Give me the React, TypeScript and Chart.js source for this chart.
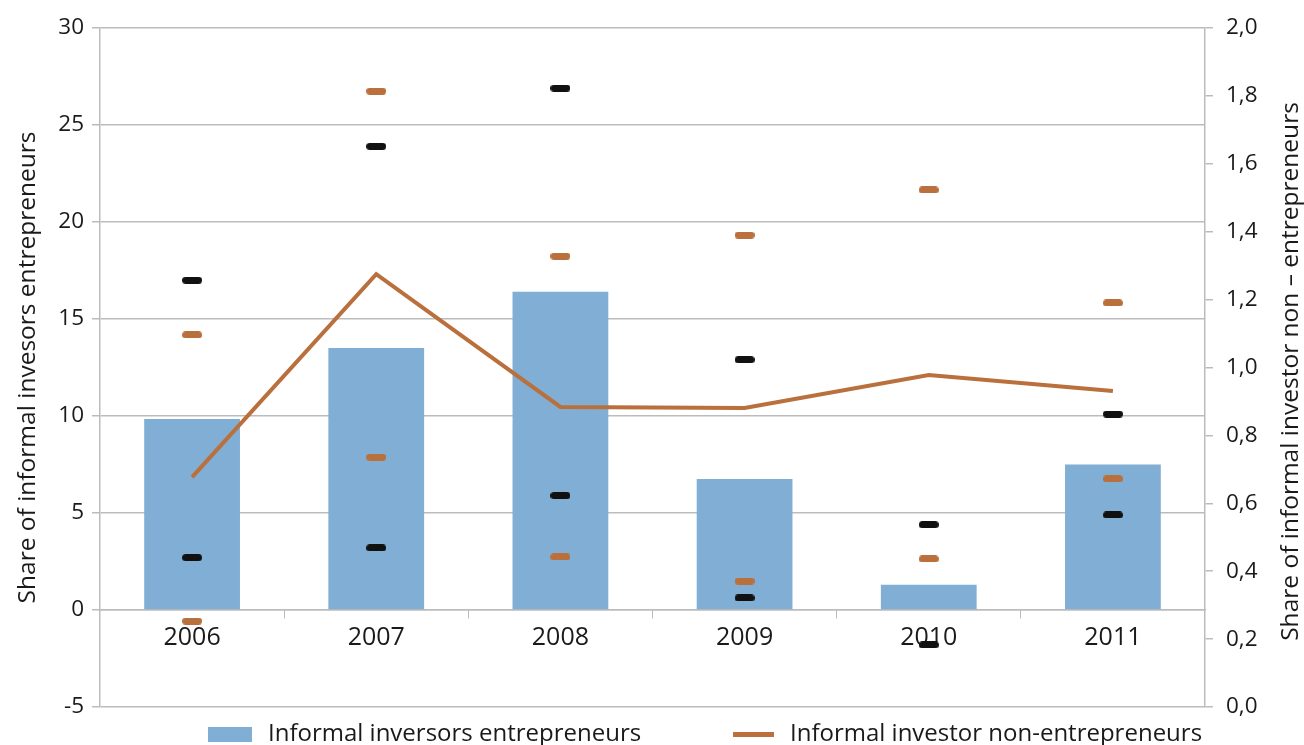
import React, { useEffect, useRef } from 'react';
import { Chart, registerables } from 'chart.js';

Chart.register(...registerables);

// ---- data ----
const years = ['2006', '2007', '2008', '2009', '2010', '2011'];
const entrepreneurs = [9.85, 13.5, 16.4, 6.75, 1.3, 7.5];
const entrepreneursUpper = [17.0, 23.9, 26.9, 12.9, 4.4, 10.1];
const entrepreneursLower = [2.7, 3.2, 5.9, 0.62, -1.8, 4.9];
const nonEntrepreneurs = [0.677, 1.275, 0.884, 0.881, 0.978, 0.931];
const nonEntrepreneursUpper = [1.096, 1.814, 1.328, 1.39, 1.523, 1.19];
const nonEntrepreneursLower = [0.253, 0.736, 0.442, 0.371, 0.436, 0.672];
const leftAxisRange = [-5, 30, 5];
const rightAxisRange = [0, 2, 0.2];
const seriesLabels = ['Informal inversors entrepreneurs', 'Informal investor non-entrepreneurs'];
const leftAxisTitle = 'Share of informal invesors entrepreneurs';
const rightAxisTitle = 'Share of informal investor non \u2013 entrepreneurs';

// ---- styles ----
const BAR_COLOR = '#80AED4';
const LINE_COLOR = '#B9703D';
const MARK_COLOR = '#111111';
const GRID_COLOR = '#bcbcbc';
const TEXT_COLOR = '#1a1a1a';
const FONT = "'Open Sans', 'Noto Sans', sans-serif";
const TITLE_SIZE = 24.5;

function makeDash(color: string) {
  const c = document.createElement('canvas');
  c.width = 20;
  c.height = 7;
  const ctx = c.getContext('2d')!;
  ctx.fillStyle = color;
  ctx.beginPath();
  (ctx as any).roundRect(0, 0, 20, 7, 3.5);
  ctx.fill();
  return c;
}

const customPlugin = {
  id: 'customDecor',
  afterDraw(chart: any) {
    const { ctx, chartArea } = chart;
    ctx.save();
    // right axis title (reads bottom-to-top)
    ctx.font = `${TITLE_SIZE}px ${FONT}`;
    ctx.fillStyle = TEXT_COLOR;
    ctx.textAlign = 'center';
    ctx.textBaseline = 'middle';
    ctx.translate(chart.width - 13, (chartArea.top + chartArea.bottom) / 2 + 4);
    ctx.rotate(-Math.PI / 2);
    ctx.fillText(rightAxisTitle, 0, 0);
    ctx.restore();

    // legend
    ctx.save();
    const y = chartArea.bottom + 27.5;
    let x = 208;
    ctx.fillStyle = BAR_COLOR;
    ctx.fillRect(x, y - 7.5, 44, 15);
    ctx.font = `24px ${FONT}`;
    ctx.fillStyle = TEXT_COLOR;
    ctx.textAlign = 'left';
    ctx.textBaseline = 'middle';
    ctx.fillText(seriesLabels[0], x + 60, y);
    x = 733;
    ctx.fillStyle = LINE_COLOR;
    ctx.fillRect(x, y - 2.5, 41, 5);
    ctx.fillStyle = TEXT_COLOR;
    ctx.fillText(seriesLabels[1], x + 57, y);
    ctx.restore();
  },
};

export default function App() {
  const ref = useRef<HTMLCanvasElement | null>(null);

  useEffect(() => {
    if (!ref.current) return;
    Chart.defaults.font.family = FONT;
    Chart.defaults.font.size = 22;
    Chart.defaults.color = TEXT_COLOR;
    const blackDash = makeDash(MARK_COLOR);
    const orangeDash = makeDash(LINE_COLOR);

    const markerDataset = (data: number[], img: HTMLCanvasElement, axis: string) => ({
      type: 'line' as const,
      data,
      yAxisID: axis,
      showLine: false,
      pointStyle: img,
      pointRadius: 10,
      pointHoverRadius: 10,
      borderWidth: 0,
      order: 0,
    });

    const chart = new Chart(ref.current, {
      type: 'bar',
      data: {
        labels: years,
        datasets: [
          markerDataset(entrepreneursUpper, blackDash, 'y'),
          markerDataset(entrepreneursLower, blackDash, 'y'),
          markerDataset(nonEntrepreneursUpper, orangeDash, 'y2'),
          markerDataset(nonEntrepreneursLower, orangeDash, 'y2'),
          {
            type: 'line',
            label: seriesLabels[1],
            data: nonEntrepreneurs,
            yAxisID: 'y2',
            borderColor: LINE_COLOR,
            backgroundColor: LINE_COLOR,
            borderWidth: 4,
            pointRadius: 0,
            tension: 0,
            order: 1,
          },
          {
            type: 'bar',
            label: seriesLabels[0],
            data: entrepreneurs,
            yAxisID: 'y',
            backgroundColor: BAR_COLOR,
            borderWidth: 0,
            categoryPercentage: 1,
            barPercentage: 0.52,
            order: 2,
          },
        ] as any,
      },
      options: {
        responsive: false,
        animation: false,
        events: [],
        layout: { padding: { top: 28, bottom: 38, left: 0, right: 0 } },
        plugins: {
          legend: { display: false },
          tooltip: { enabled: false },
          title: { display: false },
        },
        scales: {
          x: {
            type: 'category',
            position: { y: 0 } as any,
            offset: true,
            grid: {
              offset: true,
              drawOnChartArea: false,
              drawTicks: true,
              tickLength: 8,
              color: GRID_COLOR,
              tickColor: GRID_COLOR,
            },
            border: { display: true, color: GRID_COLOR, width: 1.5 },
            ticks: { padding: 5, color: TEXT_COLOR, font: { size: 25 }, maxRotation: 0 },
          },
          y: {
            position: 'left',
            min: leftAxisRange[0],
            max: leftAxisRange[1],
            ticks: { stepSize: leftAxisRange[2], padding: 8, color: TEXT_COLOR, font: { size: 22.5 } },
            grid: { color: GRID_COLOR, lineWidth: 1.5, tickLength: 8, drawTicks: true },
            border: { display: true, color: GRID_COLOR, width: 1.5 },
            title: {
              display: true,
              text: leftAxisTitle,
              color: TEXT_COLOR,
              font: { size: TITLE_SIZE },
              padding: { top: 13, bottom: 0 },
            },
            afterFit: (scale: any) => {
              scale.width = 100;
            },
          },
          y2: {
            position: 'right',
            min: rightAxisRange[0],
            max: rightAxisRange[1],
            ticks: {
              stepSize: rightAxisRange[2],
              padding: 13,
              color: TEXT_COLOR,
              font: { size: 22.5 },
              callback: (v: any) => Number(v).toFixed(1).replace('.', ','),
            },
            grid: { drawOnChartArea: false, drawTicks: true, tickLength: 8, color: GRID_COLOR, lineWidth: 1.5 },
            border: { display: true, color: GRID_COLOR, width: 1.5 },
            afterFit: (scale: any) => {
              scale.width = 99;
            },
          },
        },
      } as any,
      plugins: [customPlugin],
    });
    return () => chart.destroy();
  }, []);

  return (
    <div style={{ position: 'fixed', left: 0, top: 0, width: 1304, height: 745, background: '#fff' }}>
      <canvas ref={ref} width={1304} height={745} style={{ display: 'block' }} />
    </div>
  );
}
